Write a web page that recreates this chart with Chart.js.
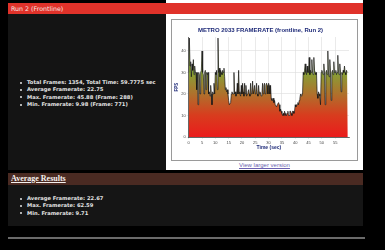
<!DOCTYPE html>
<html>
<head>
<meta charset="utf-8">
<script src="https://cdn.jsdelivr.net/npm/chart.js@4.4.0/dist/chart.umd.min.js"></script>
<style>
    html, body { margin: 0; padding: 0; background: #000; width: 385px; height: 250px; overflow: hidden; }
    body { position: relative; font-family: "DejaVu Sans", Verdana, sans-serif; }
    .abs { position: absolute; }
    #whitePanel { left: 166px; top: 0; width: 197px; height: 170px; background: #fff; }
    #header { left: 8px; top: 3px; width: 355px; height: 11px; background: #e0322a; color: #f8e8e2;
              font-size: 6.3px; line-height: 11px; padding-left: 3px; box-sizing: border-box; }
    #leftPanel { left: 8px; top: 14px; width: 158px; height: 156px; background: #141414; }
    #frame { left: 171px; top: 19px; width: 187px; height: 142px; border: 1px solid #9a9a9a;
             box-sizing: border-box; background: #fff; }
    #frame canvas { display: block; }
    #larger { left: 166px; top: 161px; width: 197px; text-align: center; font-size: 6px; line-height: 8px;
              color: #6a5fb0; text-decoration: underline; font-family: "Liberation Sans", Arial, sans-serif; }
    #avgBar { left: 8px; top: 173px; width: 355px; height: 12px; background: #4a2a22; color: #f4f0ee;
              font-family: "Liberation Serif", serif; font-weight: bold; font-size: 8px; line-height: 12px;
              padding-left: 3px; box-sizing: border-box; }
    #avgBar span { text-decoration: underline; }
    #avgPanel { left: 8px; top: 185px; width: 355px; height: 41px; background: #151515; }
    #rule { left: 8px; top: 237px; width: 357px; height: 2px; background: #6a6a6a; }
    ul.stats { position: absolute; margin: 0; padding: 0; list-style: none; color: #e4e4e4;
               font-family: "DejaVu Sans", Verdana, sans-serif; font-weight: bold; font-size: 5.2px; line-height: 7.3px; }
    ul.stats li { position: relative; padding-left: 7px; white-space: nowrap; }
    ul.stats li::before { content: ""; position: absolute; left: 0; top: 2.7px; width: 2px; height: 2px; background: #e4e4e4; border-radius: 1px; }
</style>
</head>
<body>
<div id="whitePanel" class="abs"></div>
<div id="header" class="abs">Run 2 (Frontline)</div>
<div id="leftPanel" class="abs"></div>
<ul class="stats" style="left:20px; top:79px;">
    <li>Total Frames: 1354, Total Time: 59.7775 sec</li>
    <li>Average Framerate: 22.75</li>
    <li>Max. Framerate: 45.88 (Frame: 288)</li>
    <li>Min. Framerate: 9.98 (Frame: 771)</li>
</ul>
<div id="frame" class="abs"><canvas id="fps-chart" width="185" height="140"></canvas></div>
<div id="larger" class="abs">View larger version</div>
<div id="avgBar" class="abs"><span>Average Results</span></div>
<div id="avgPanel" class="abs"></div>
<ul class="stats" style="left:20px; top:195px;">
    <li>Average Framerate: 22.67</li>
    <li>Max. Framerate: 62.59</li>
    <li>Min. Framerate: 9.71</li>
</ul>
<div id="rule" class="abs"></div>

<script>
(function () {
    "use strict";

    // framerate samples, one every 0.25 sec (each row = 5 sec)
    const sampleStep = 0.25;
    const fps = [
        30, 46, 33, 35, 28, 34, 31, 36, 29, 33, 30, 30, 22, 30, 15, 30, 29, 20, 30, 31,
        40, 30, 29, 20, 30, 31, 22, 30, 29, 30, 20, 21, 19, 24, 20, 15, 21, 20, 25, 20,
        30, 29, 31, 22, 46, 30, 32, 28, 31, 30, 29, 31, 30, 32, 28, 22, 23, 21, 22, 20,
        17, 15, 15, 16, 20, 21, 20, 20, 30, 20, 21, 19, 20, 25, 20, 31, 21, 20, 19, 24,
        20, 25, 21, 19, 25, 20, 24, 19, 20, 21, 22, 20, 19, 25, 20, 21, 26, 20, 20, 24,
        20, 21, 25, 20, 19, 24, 20, 21, 20, 19, 20, 25, 20, 24, 25, 20, 24, 25, 24, 20,
        25, 24, 20, 24, 18, 17, 17, 18, 16, 17, 15, 15, 14, 15, 15, 16, 15, 12, 13, 12,
        11, 10, 11, 10, 12, 11, 10, 10, 11, 12, 10, 10, 12, 12, 11, 10, 12, 12, 11, 12,
        15, 14, 15, 15, 16, 15, 17, 18, 20, 19, 20, 20, 30, 29, 31, 34, 30, 29, 33, 30,
        30, 37, 29, 31, 30, 36, 30, 29, 37, 31, 30, 29, 30, 20, 18, 21, 20, 19, 15, 30,
        31, 30, 29, 34, 30, 15, 30, 31, 29, 40, 30, 28, 36, 30, 17, 30, 31, 29, 35, 30,
        30, 31, 29, 30, 38, 30, 29, 34, 30, 21, 30, 29, 31, 30, 33, 30, 29, 31, 30, 30
    ];
    const totalTime = 60.2;
    const xTicks = [0, 5, 10, 15, 20, 25, 30, 35, 40, 45, 50, 55];
    const yTicks = [0, 10, 20, 30, 40];

    const points = fps.map((v, i) => ({ x: i * sampleStep, y: v }));
    const navy = "#1e2a78";

    const fillGradient = (context) => {
        const chart = context.chart;
        if (!chart.chartArea) return "#c06030";
        const y = chart.scales.y;
        const g = chart.ctx.createLinearGradient(0, y.getPixelForValue(0), 0, y.getPixelForValue(36));
        g.addColorStop(0, "#ea1c1c");
        g.addColorStop(0.28, "#d83c1e");
        g.addColorStop(0.55, "#b0702c");
        g.addColorStop(0.83, "#86a036");
        g.addColorStop(1, "#aac450");
        return g;
    };

    const ctx = document.getElementById("fps-chart").getContext("2d");
    new Chart(ctx, {
        type: "line",
        data: {
            datasets: [
                {
                    data: points,
                    borderColor: "rgba(20,20,20,0.85)",
                    borderWidth: 0.8,
                    pointRadius: 0,
                    tension: 0,
                    fill: "origin",
                    backgroundColor: fillGradient,
                },
            ],
        },
        options: {
            responsive: false,
            animation: false,
            layout: { padding: { left: 0, right: 8, top: 0, bottom: 9 } },
            plugins: {
                legend: { display: false },
                tooltip: { enabled: false },
                title: {
                    display: true,
                    text: "METRO 2033 FRAMERATE (frontline, Run 2)",
                    color: navy,
                    font: { family: "Liberation Sans", size: 6, weight: "bold" },
                    padding: { top: 7, bottom: 2.8 },
                },
            },
            scales: {
                x: {
                    type: "linear",
                    min: 0,
                    max: totalTime,
                    afterBuildTicks: (scale) => {
                        scale.ticks = xTicks.map((v) => ({ value: v }));
                    },
                    afterFit: (scale) => { scale.height = 14; },
                    ticks: { color: "#444", font: { family: "Liberation Sans", size: 4 }, padding: 1, maxRotation: 0, autoSkip: false },
                    grid: { color: "#dcdcdc", lineWidth: 0.6, tickLength: 2 },
                    border: { color: "#444", width: 0.8 },
                    title: { display: true, text: "Time (sec)", color: navy, font: { family: "Liberation Sans", size: 5, weight: "bold" }, padding: { top: 1, bottom: 0 } },
                },
                y: {
                    min: 0,
                    max: 46.5,
                    afterBuildTicks: (scale) => {
                        scale.ticks = yTicks.map((v) => ({ value: v }));
                    },
                    afterFit: (scale) => { scale.width = 16.7; },
                    ticks: { color: "#444", font: { family: "Liberation Sans", size: 4 }, padding: 1 },
                    grid: { color: "#dcdcdc", lineWidth: 0.6, tickLength: 2 },
                    border: { color: "#444", width: 0.8 },
                    title: { display: true, text: "FPS", color: navy, font: { family: "Liberation Sans", size: 4.5, weight: "bold" }, padding: { top: 2, bottom: 0 } },
                },
            },
        },
    });
})();
</script>
</body>
</html>
